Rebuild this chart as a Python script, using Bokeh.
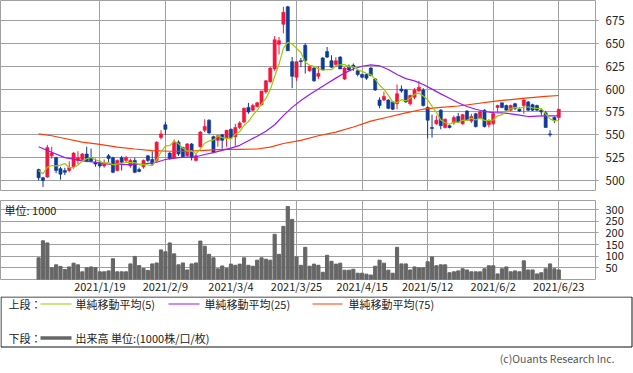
from bokeh.plotting import figure
from bokeh.layouts import column
from bokeh.models import Range1d, FixedTicker, ColumnDataSource
from bokeh.embed import file_html
from bokeh.resources import INLINE
from bokeh.core.properties import value

# ---------------- data ----------------
opens = [512, 503, 504, 527, 525, 513, 511, 511, 515, 522, 523, 529, 525, 520, 519, 516, 527, 525, 511, 525,
         522, 516, 522, 512, 515, 527, 523, 522, 547, 561, 530, 525, 542, 536, 527, 540, 522, 537, 555, 566,
         548, 544, 550, 546, 556, 548, 558, 564, 580, 577, 581, 583, 597, 608, 622, 649, 671, 690, 630, 613,
         631, 648, 620, 623, 614, 634, 641, 631, 627, 635, 611, 625, 626, 620, 616, 616, 623, 611, 588, 588,
         588, 586, 584, 600, 599, 584, 591, 598, 599, 580, 558, 562, 577, 558, 560, 563, 570, 562, 576, 565,
         573, 568, 577, 561, 562, 580, 585, 582, 577, 584, 578, 582, 586, 583, 582, 577, 574, 551, 569, 569]
highs = [513, 504, 539, 537, 526, 515, 514, 521, 531, 532, 530, 537, 535, 524, 522, 523, 529, 526, 523, 527,
         527, 524, 525, 514, 523, 528, 532, 543, 555, 564, 531, 545, 544, 537, 541, 541, 529, 554, 567, 567,
         549, 550, 551, 555, 557, 562, 565, 580, 585, 584, 586, 598, 610, 624, 658, 657, 690, 691, 635, 630,
         634, 650, 626, 624, 625, 635, 646, 637, 635, 636, 624, 627, 628, 622, 617, 617, 624, 612, 591, 597,
         589, 587, 605, 604, 600, 594, 601, 609, 601, 581, 572, 571, 578, 568, 561, 571, 574, 573, 577, 573,
         574, 576, 578, 567, 575, 583, 585, 583, 583, 585, 580, 589, 587, 584, 583, 578, 576, 555, 570, 578]
lows = [500, 493, 503, 524, 508, 501, 506, 509, 513, 518, 521, 520, 520, 515, 514, 514, 520, 508, 510, 511,
        519, 514, 508, 509, 513, 520, 517, 520, 545, 550, 523, 524, 527, 525, 526, 522, 521, 536, 553, 551,
        530, 537, 535, 537, 546, 538, 556, 563, 573, 576, 580, 582, 595, 607, 620, 638, 661, 642, 601, 609,
        624, 617, 619, 608, 611, 621, 634, 623, 624, 622, 610, 620, 620, 614, 612, 610, 614, 598, 579, 587,
        578, 577, 578, 596, 585, 582, 589, 597, 581, 546, 547, 561, 556, 557, 557, 561, 563, 561, 565, 563,
        558, 567, 558, 558, 561, 575, 579, 575, 576, 577, 575, 573, 576, 576, 576, 571, 558, 548, 563, 566]
closes = [503, 500, 536, 530, 511, 507, 509, 514, 530, 525, 529, 521, 521, 518, 516, 519, 524, 509, 522, 520,
          525, 522, 509, 510, 522, 522, 518, 542, 551, 556, 524, 542, 529, 526, 540, 525, 527, 553, 559, 552,
          531, 549, 544, 555, 547, 558, 563, 579, 575, 582, 585, 598, 609, 623, 654, 653, 684, 642, 614, 630,
          630, 631, 625, 609, 617, 621, 635, 624, 631, 622, 623, 621, 624, 616, 613, 612, 615, 599, 582, 592,
          579, 578, 595, 598, 586, 593, 599, 602, 582, 566, 557, 566, 560, 567, 558, 569, 564, 572, 566, 570,
          559, 575, 559, 565, 573, 582, 580, 577, 582, 579, 576, 588, 577, 577, 577, 575, 558, 550, 566, 578]
volumes = [93, 166, 157, 50, 63, 56, 43, 54, 70, 63, 33, 50, 54, 50, 33, 33, 37, 89, 33, 33,
           33, 67, 99, 60, 47, 39, 67, 71, 127, 119, 157, 110, 63, 71, 41, 67, 71, 165, 143, 108,
           93, 46, 58, 48, 66, 61, 66, 93, 61, 57, 83, 93, 87, 83, 194, 108, 228, 313, 258, 97,
           61, 138, 57, 66, 61, 31, 104, 78, 66, 70, 40, 40, 44, 27, 27, 23, 19, 57, 83, 70,
           40, 27, 138, 67, 67, 41, 54, 50, 50, 76, 97, 59, 63, 63, 29, 33, 37, 46, 41, 33,
           33, 33, 46, 59, 59, 24, 46, 54, 33, 37, 33, 80, 41, 41, 24, 29, 46, 67, 46, 41]
# closes of the four sessions before the window (implied by the 5-day average at the left edge)
prior_closes = [518, 500, 521, 513]

# 25-day and 75-day averages
ma25_idx = [0, 3, 6, 8, 10, 13, 16, 20, 24, 27, 29, 32, 36, 38, 40, 42, 44, 46, 48, 50, 52, 54, 56, 58, 60,
            62, 64, 66, 68, 70, 72, 74, 76, 78, 80, 82, 84, 86, 88, 90, 92, 94, 96, 98, 100, 102, 104, 106,
            108, 110, 112, 114, 116, 119]
ma25_val = [537, 531, 525, 523.5, 521.5, 520, 518, 517.5, 518, 520, 523, 525, 526, 528.5, 530.5, 533, 535.5,
            538.5, 543.5, 548.5, 554, 561, 571, 580, 587.5, 594, 600, 606, 612, 617.5, 622, 625, 626.5, 625.5,
            621.5, 616, 611.5, 609, 605, 600, 594.8, 590, 585, 581, 578, 575.5, 574.2, 574, 573, 571.5, 570,
            570.5, 570.7, 570.7]
ma75_idx = [0, 3, 6, 10, 14, 18, 22, 26, 30, 34, 38, 42, 46, 50, 53, 56, 60, 64, 68, 72, 76, 80, 84, 88,
            92, 96, 100, 104, 108, 112, 116, 119]
ma75_val = [551, 549, 546, 542, 539.5, 536.5, 534.5, 532.7, 532, 532, 533, 534, 534, 534.5, 536.5, 540.5,
            544, 549, 553, 558.5, 565, 569.5, 574, 578, 580, 581.5, 584, 586.5, 588.5, 590.5, 592, 593]

tick_index = [14, 29, 44, 59, 74, 89, 104, 119]
tick_labels = ["2021/1/19", "2021/2/9", "2021/3/4", "2021/3/25", "2021/4/15", "2021/5/12", "2021/6/2", "2021/6/23"]
price_ticks = [500, 525, 550, 575, 600, 625, 650, 675]
vol_ticks = [50, 100, 150, 200, 250, 300]

# ---------------- styling ----------------
FONT = "Noto Sans CJK JP"
RED = "#f5143c"
BLUE = "#0f3a96"
C5 = "#99cc00"
C25 = "#9a19f0"
C75 = "#ff3c00"
GRID = "#a0a0a0"

n = len(closes)
idx = list(range(n))
all_c = prior_closes + closes
ma5 = [sum(all_c[i:i + 5]) / 5.0 for i in range(n)]

colors = [RED if c >= o else BLUE for o, c in zip(opens, closes)]
tops = [max(o, c) for o, c in zip(opens, closes)]
bots = [min(o, c) for o, c in zip(opens, closes)]
src = ColumnDataSource(dict(x=idx, o=opens, h=highs, l=lows, c=closes, top=tops, bot=bots, col=colors, v=volumes))

xr = Range1d(-8.72, 127.4)

W = 633
RB = 38


def style_common(p):
    p.outline_line_color = GRID
    p.outline_line_width = 1
    p.background_fill_color = "white"
    p.border_fill_color = "white"
    p.xgrid.ticker = FixedTicker(ticks=tick_index)
    p.xgrid.grid_line_color = GRID
    p.ygrid.grid_line_color = GRID
    p.xgrid.grid_line_alpha = 1
    p.ygrid.grid_line_alpha = 1
    ax = p.yaxis[0]
    ax.axis_line_color = None
    ax.major_tick_out = 3
    ax.major_tick_in = 0
    ax.major_tick_line_color = GRID
    ax.minor_tick_line_color = None
    ax.major_label_text_font = FONT
    ax.major_label_text_color = "#222222"


# ---------------- price panel ----------------
p1 = figure(width=W, height=195, x_range=xr, y_range=Range1d(489.1, 696.9),
            output_backend="svg", toolbar_location=None, y_axis_location="right",
            min_border_left=0, min_border_right=RB, min_border_top=0, min_border_bottom=5)
p1.xaxis.visible = False
p1.yaxis.ticker = FixedTicker(ticks=price_ticks)
style_common(p1)
p1.yaxis.major_label_standoff = 7
p1.yaxis.major_label_text_font_size = "11.5px"

p1.segment(x0="x", x1="x", y0="l", y1="h", color="col", line_width=1, source=src)
p1.vbar(x="x", top="top", bottom="bot", width=0.72, fill_color="col", line_color="col", line_width=0.6, source=src)
p1.line(ma75_idx, ma75_val, color=C75, line_width=1.2)
p1.line(ma25_idx, ma25_val, color=C25, line_width=1.2)
p1.line(idx, ma5, color=C5, line_width=1.2)

# ---------------- volume panel ----------------
p2 = figure(width=W, height=101, x_range=xr, y_range=Range1d(0, 339),
            output_backend="svg", toolbar_location=None, y_axis_location="right",
            min_border_left=0, min_border_right=RB, min_border_top=5, min_border_bottom=15)
p2.yaxis.ticker = FixedTicker(ticks=vol_ticks)
style_common(p2)
p2.yaxis.major_label_standoff = 7
p2.yaxis.major_label_text_font_size = "11px"
xa = p2.xaxis[0]
xa.ticker = FixedTicker(ticks=tick_index)
xa.major_label_overrides = {t: lab for t, lab in zip(tick_index, tick_labels)}
xa.axis_line_color = None
xa.major_tick_out = 0
xa.major_tick_in = 0
xa.major_tick_line_color = None
xa.minor_tick_line_color = None
xa.major_label_standoff = -2
xa.major_label_text_font = FONT
xa.major_label_text_font_size = "11px"
xa.major_label_text_color = "#222222"

p2.vbar(x="x", top="v", bottom=0, width=0.72, color="#666666", source=src)
p2.text(x=[-7.8], y=[298], text=["単位: 1000"], text_font=value(FONT), text_font_size=value("11px"),
        text_baseline="middle", text_align="left", text_color="#222222")

# ---------------- legend / credit ----------------
p3 = figure(width=W, height=77, x_range=Range1d(0, W), y_range=Range1d(77, 0),
            output_backend="svg", toolbar_location=None, x_axis_location=None, y_axis_location=None,
            min_border_left=0, min_border_right=0, min_border_top=0, min_border_bottom=0)
p3.outline_line_color = None
p3.xgrid.visible = False
p3.ygrid.visible = False
p3.quad(left=[0.5], right=[631.5], top=[0.5], bottom=[50.5], fill_color=None, line_color="#111111", line_width=1)

leg_text = ["上段：", "単純移動平均(5)", "単純移動平均(25)", "単純移動平均(75)", "下段：", "出来高 単位:(1000株/口/枚)"]
leg_x = [8, 75, 204, 348, 8, 75]
leg_y = [7.5, 7.5, 7.5, 7.5, 41.5, 41.5]
p3.text(x=leg_x, y=leg_y, text=leg_text, text_font=value(FONT), text_font_size=value("11px"),
        text_baseline="middle", text_align="left", text_color="#222222")
p3.segment(x0=[40, 168, 312], x1=[71, 199, 342], y0=[7.5] * 3, y1=[7.5] * 3,
           color=[C5, C25, C75], line_width=1.2)
p3.segment(x0=[40], x1=[71], y0=[41.5], y1=[41.5], color="#666666", line_width=3.5)
p3.text(x=[614], y=[62], text=["(c)Ouants Research Inc."], text_font=value(FONT), text_font_size=value("10.5px"),
        text_baseline="middle", text_align="right", text_color="#555555")

top = column(p1, p2, spacing=0)
open("out.html", "w").write(file_html([top, p3], INLINE))
